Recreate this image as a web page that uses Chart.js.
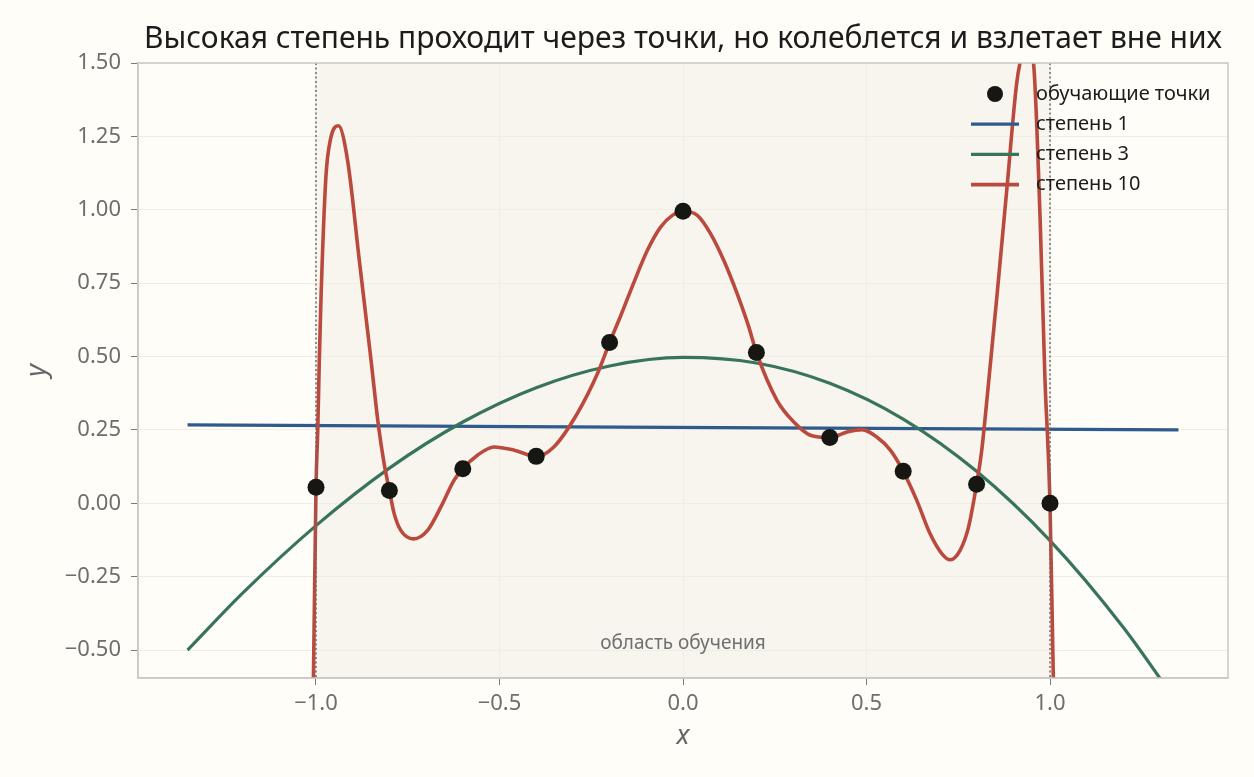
<!DOCTYPE html>
<html>
<head>
<meta charset="utf-8">
<script src="https://cdn.jsdelivr.net/npm/chart.js@4.4.1/dist/chart.umd.min.js"></script>
<style>
  html, body { margin: 0; padding: 0; background: #fffdf8; }
  canvas { display: block; }
</style>
</head>
<body>
<canvas id="fitChart" width="1254" height="777"></canvas>
<script>
// training points
const pointX = [-1.0, -0.8, -0.6, -0.4, -0.2, 0.0, 0.2, 0.4, 0.6, 0.8, 1.0];
const pointY = [0.055, 0.044, 0.118, 0.16, 0.548, 0.995, 0.514, 0.224, 0.109, 0.065, 0.0];

// degree 1 fit
const deg1X = [-1.35, 1.35];
const deg1Y = [0.267, 0.25];

// degree 3 fit
const deg3X = [-1.35, -1.2, -1.0, -0.8, -0.6, -0.4, -0.2, 0.0, 0.2, 0.4, 0.6, 0.8, 1.0, 1.2, 1.35];
const deg3Y = [-0.5, -0.306, -0.076, 0.12, 0.277, 0.394, 0.468, 0.497, 0.478, 0.409, 0.287, 0.109, -0.127, -0.423, -0.686];

// degree 10 fit (leaves the view near the edges)
const deg10X = [-1.012, -1.007, -1.0, -0.995, -0.991, -0.986, -0.973, -0.961, -0.939, -0.914, -0.882, -0.85, -0.83, -0.815,
  -0.8, -0.787, -0.769, -0.734, -0.696, -0.66, -0.624, -0.6, -0.56, -0.515, -0.46, -0.4, -0.352, -0.288, -0.233,
  -0.2, -0.17, -0.134, -0.097, -0.061, -0.029, 0.0, 0.039, 0.075, 0.111, 0.147, 0.179, 0.2, 0.256, 0.302, 0.347,
  0.4, 0.447, 0.488, 0.528, 0.565, 0.6, 0.637, 0.673, 0.705, 0.728, 0.755, 0.778, 0.8, 0.814, 0.828, 0.855,
  0.882, 0.909, 0.92, 0.937, 0.955, 0.973, 0.986, 1.0, 1.009, 1.015];
const deg10Y = [-0.85, -0.595, 0.055, 0.26, 0.487, 0.714, 1.112, 1.237, 1.286, 1.169, 0.828, 0.487, 0.266, 0.14,
  0.044, -0.035, -0.092, -0.121, -0.092, -0.013, 0.078, 0.118, 0.164, 0.192, 0.181, 0.16, 0.192, 0.306, 0.442,
  0.548, 0.638, 0.752, 0.862, 0.941, 0.981, 0.995, 0.981, 0.919, 0.828, 0.716, 0.602, 0.514, 0.351, 0.277, 0.232,
  0.224, 0.243, 0.251, 0.226, 0.181, 0.109, 0.01, -0.103, -0.171, -0.192, -0.16, -0.081, 0.065, 0.181, 0.351, 0.701,
  1.065, 1.429, 1.51, 1.57, 1.5, 0.971, 0.432, 0.0, -0.59, -0.9];

const seriesLabels = ['обучающие точки', 'степень 1', 'степень 3', 'степень 10'];
const xTicks = [-1.0, -0.5, 0.0, 0.5, 1.0];
const yTicks = [-0.5, -0.25, 0.0, 0.25, 0.5, 0.75, 1.0, 1.25, 1.5];
const trainRange = [-1.0, 1.0];
const titleText = 'Высокая степень проходит через точки, но колеблется и взлетает вне них';
const regionText = 'область обучения';

const FONT = '"Noto Sans", "DejaVu Sans", sans-serif';
const colors = { points: '#161612', d1: '#2f5b8c', d3: '#38745c', d10: '#ba4a3d' };

function zip(xs, ys) {
    return xs.map((x, i) => ({ x: x, y: ys[i] }));
}

function fmt(v, d) {
    return (v < 0 ? '\u2212' : '') + Math.abs(v).toFixed(d);
}

// shaded area, labels, frame, legend
const decorPlugin = {
    id: 'decor',
    beforeDraw(chart) {
        const { ctx, chartArea: a, scales } = chart;
        ctx.save();
        ctx.fillStyle = '#fffdf8';
        ctx.fillRect(0, 0, chart.width, chart.height);
        const x0 = scales.x.getPixelForValue(trainRange[0]);
        const x1 = scales.x.getPixelForValue(trainRange[1]);
        ctx.fillStyle = '#f8f5ef';
        ctx.fillRect(x0, a.top, x1 - x0, a.bottom - a.top);
        ctx.restore();
    },
    beforeDatasetsDraw(chart) {
        const { ctx, scales } = chart;
        ctx.save();
        ctx.fillStyle = '#6f6f6f';
        ctx.font = '19px ' + FONT;
        ctx.textAlign = 'center';
        ctx.textBaseline = 'middle';
        ctx.fillText(regionText, scales.x.getPixelForValue(0), scales.y.getPixelForValue(-0.477));
        ctx.restore();
    },
    beforeDatasetDraw(chart, args) {
        if (args.index !== 0) return;
        const { ctx, chartArea: a, scales } = chart;
        ctx.save();
        ctx.strokeStyle = '#6a6a6a';
        ctx.lineWidth = 1.5;
        ctx.setLineDash([2, 2.5]);
        trainRange.forEach(v => {
            const px = scales.x.getPixelForValue(v);
            ctx.beginPath();
            ctx.moveTo(px, a.top);
            ctx.lineTo(px, a.bottom);
            ctx.stroke();
        });
        ctx.restore();
    },
    afterDraw(chart) {
        const { ctx, chartArea: a } = chart;
        ctx.save();
        // frame
        ctx.strokeStyle = '#cbc8c0';
        ctx.lineWidth = 1.5;
        ctx.strokeRect(a.left, a.top, a.right - a.left, a.bottom - a.top);

        // title
        ctx.fillStyle = '#1c1c1c';
        ctx.font = '30px ' + FONT;
        ctx.textAlign = 'center';
        ctx.textBaseline = 'middle';
        ctx.fillText(titleText, (a.left + a.right) / 2, 39);

        // axis titles
        ctx.fillStyle = '#666666';
        ctx.font = 'italic 27px ' + FONT;
        ctx.fillText('x', (a.left + a.right) / 2, 736);
        ctx.save();
        ctx.translate(37, (a.top + a.bottom) / 2);
        ctx.rotate(-Math.PI / 2);
        ctx.fillText('y', 0, 0);
        ctx.restore();

        // legend
        const ds = chart.data.datasets;
        const lx = a.right - 257;
        const tx = a.right - 192;
        ctx.font = '20px ' + FONT;
        ctx.textAlign = 'left';
        ds.forEach((d, i) => {
            const ly = a.top + 31 + i * 30.2;
            if (i === 0) {
                ctx.fillStyle = d.backgroundColor;
                ctx.beginPath();
                ctx.arc(lx + 24, ly, 8, 0, Math.PI * 2);
                ctx.fill();
            } else {
                ctx.strokeStyle = d.borderColor;
                ctx.lineWidth = d.borderWidth;
                ctx.beginPath();
                ctx.moveTo(lx, ly);
                ctx.lineTo(lx + 48, ly);
                ctx.stroke();
            }
            ctx.fillStyle = '#1c1c1c';
            ctx.fillText(d.label, tx, ly);
        });
        ctx.restore();
    }
};

const lineBase = { showLine: true, pointRadius: 0, fill: false, clip: 0, cubicInterpolationMode: 'monotone' };

new Chart(document.getElementById('fitChart').getContext('2d'), {
    type: 'scatter',
    data: {
        datasets: [
            {
                label: seriesLabels[0],
                data: zip(pointX, pointY),
                backgroundColor: colors.points,
                borderWidth: 0,
                pointRadius: 8.5,
                order: 0,
                clip: false
            },
            Object.assign({ label: seriesLabels[1], data: zip(deg1X, deg1Y), borderColor: colors.d1, borderWidth: 3.2, order: 3 }, lineBase),
            Object.assign({ label: seriesLabels[2], data: zip(deg3X, deg3Y), borderColor: colors.d3, borderWidth: 3.2, order: 2 }, lineBase),
            Object.assign({ label: seriesLabels[3], data: zip(deg10X, deg10Y), borderColor: colors.d10, borderWidth: 3.6, order: 1 }, lineBase)
        ]
    },
    options: {
        responsive: false,
        animation: false,
        layout: { padding: { top: 63, right: 26, left: 0, bottom: 0 } },
        plugins: {
            legend: { display: false },
            title: { display: false },
            tooltip: { enabled: false }
        },
        scales: {
            x: {
                type: 'linear',
                min: -1.485,
                max: 1.485,
                afterBuildTicks: s => { s.ticks = xTicks.map(v => ({ value: v })); },
                afterFit: s => { s.height = 99; },
                grid: { color: '#f0ede6', lineWidth: 1, tickLength: 7, tickColor: '#777777' },
                border: { color: '#cbc8c0', width: 1.5 },
                ticks: { color: '#6e6e6e', padding: 6, font: { family: FONT, size: 22 }, callback: v => fmt(v, 1) }
            },
            y: {
                type: 'linear',
                min: -0.595,
                max: 1.5,
                afterBuildTicks: s => { s.ticks = yTicks.map(v => ({ value: v })); },
                afterFit: s => { s.width = 138; },
                grid: { color: '#f0ede6', lineWidth: 1, tickLength: 7, tickColor: '#777777' },
                border: { color: '#cbc8c0', width: 1.5 },
                ticks: { color: '#6e6e6e', padding: 10, font: { family: FONT, size: 22 }, callback: v => fmt(v, 2) }
            }
        }
    },
    plugins: [decorPlugin]
});
</script>
</body>
</html>
